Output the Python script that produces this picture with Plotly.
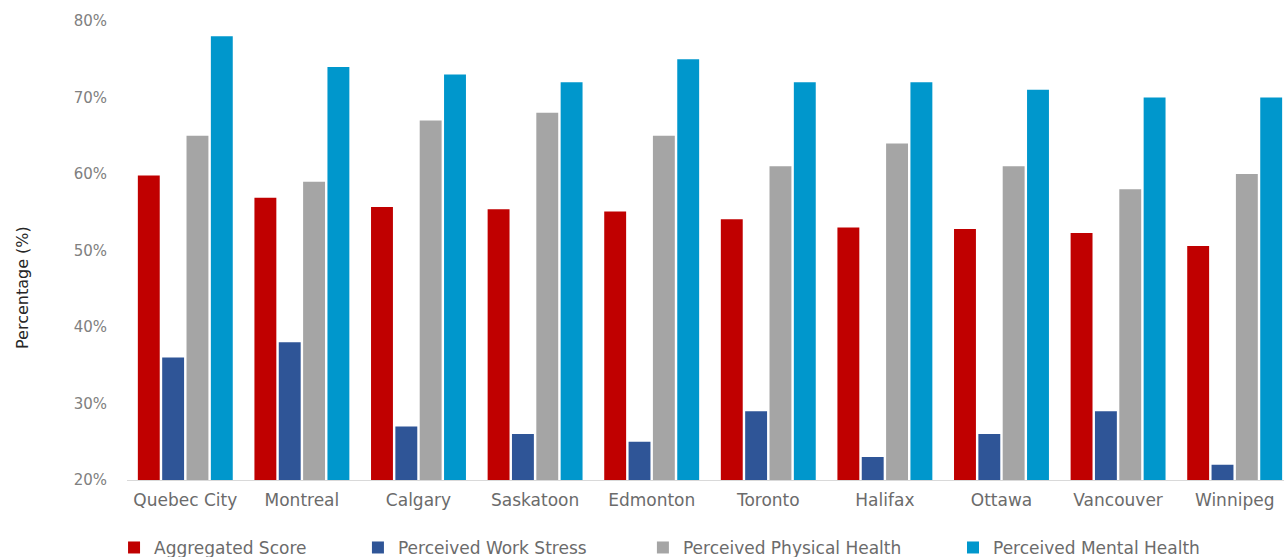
import plotly.graph_objects as go

# City wellbeing scores (percent)
cities = ["Quebec City", "Montreal", "Calgary", "Saskatoon", "Edmonton",
          "Toronto", "Halifax", "Ottawa", "Vancouver", "Winnipeg"]
aggregated_score = [59.8, 56.9, 55.7, 55.4, 55.1, 54.1, 53.0, 52.8, 52.3, 50.6]
work_stress = [36, 38, 27, 26, 25, 29, 23, 26, 29, 22]
physical_health = [65, 59, 67, 68, 65, 61, 64, 61, 58, 60]
mental_health = [78, 74, 73, 72, 75, 72, 72, 71, 70, 70]

series = [
    ("Aggregated Score", aggregated_score, "#C00000", "legend", -0.0112),
    ("Perceived Work Stress", work_stress, "#2F5597", "legend2", 0.1996),
    ("Perceived Physical Health", physical_health, "#A5A5A5", "legend3", 0.4459),
    ("Perceived Mental Health", mental_health, "#0097CC", "legend4", 0.7139),
]

FONT = "DejaVu Sans"
fig = go.Figure()
legend_layout = {}
for name, values, color, legend_id, lx in series:
    fig.add_trace(go.Bar(
        x=cities, y=values, name=name,
        marker=dict(color=color, line=dict(width=0)),
        legend=legend_id,
    ))
    legend_layout[legend_id] = dict(
        orientation="h", x=lx, xanchor="left", y=-0.148, yanchor="middle",
        font=dict(family=FONT, size=17, color="#6b6b6b"),
        bgcolor="rgba(0,0,0,0)", itemclick=False, itemdoubleclick=False,
    )

fig.update_layout(
    width=1284, height=557,
    margin=dict(l=127, r=0, t=21, b=77, autoexpand=False),
    paper_bgcolor="white", plot_bgcolor="white",
    barmode="group", bargap=0.165, bargroupgap=0.1,
    showlegend=True,
    font=dict(family=FONT),
    **legend_layout,
)

fig.update_xaxes(
    range=[-0.5, 9.423],
    showline=True, linecolor="#d9d9d9", linewidth=1,
    showgrid=False,
    ticks="outside", ticklen=5, tickcolor="rgba(0,0,0,0)",
    tickfont=dict(family=FONT, size=17, color="#6b6b6b"),
)
fig.update_yaxes(
    range=[20, 80], dtick=10, ticksuffix="%",
    showgrid=False, zeroline=False, showline=False,
    ticks="outside", ticklen=16, tickcolor="rgba(0,0,0,0)",
    tickfont=dict(family=FONT, size=15, color="#808080"),
)

fig.add_annotation(
    text="Percentage (%)", textangle=-90,
    xref="paper", yref="paper", x=-0.0899, y=0.4205,
    xanchor="center", yanchor="middle", showarrow=False,
    font=dict(family=FONT, size=16, color="#262626"),
)

fig.write_html("out.html")
